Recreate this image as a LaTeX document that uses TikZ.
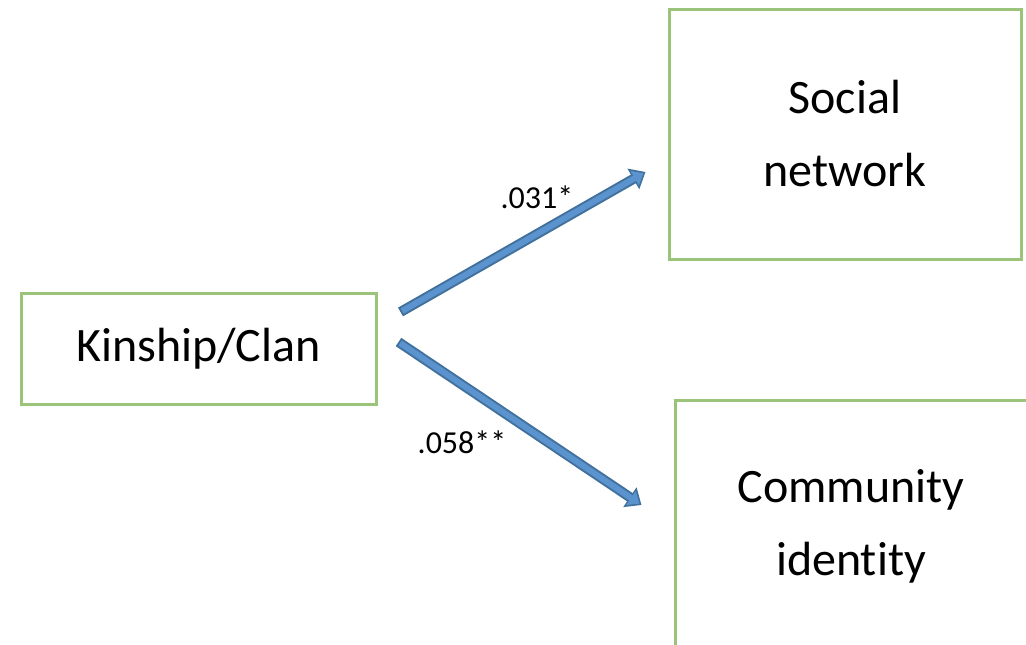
\documentclass[tikz,border=0pt]{standalone}
\usepackage{fontspec}
\setmainfont[Ligatures=CommonOff]{Carlito}
\usetikzlibrary{arrows.meta,positioning,calc}

\definecolor{boxgreen}{HTML}{9BC47A}
\definecolor{linkblue}{HTML}{41719C}
\definecolor{linkfill}{HTML}{5B93CF}

\tikzset{
  box/.style={draw=boxgreen, line width=3pt, align=center, inner sep=0pt,
    font=\fontsize{48}{73}\selectfont},
  link/.style={draw=linkblue, line width=10pt, -{Triangle[length=14pt,width=23pt]},
    postaction={draw=linkfill, line width=6pt, shorten >=2.5pt, shorten <=2pt,
      -{Triangle[length=10pt,width=16pt]}}},
  coef/.style={font=\fontsize{32}{38}\selectfont}
}

\begin{document}
\begin{tikzpicture}[x=1pt,y=-1pt]
    \useasboundingbox (0,0) rectangle (1026,645);

    % Boxes
    \node[box, minimum width=355pt, minimum height=111pt] (kin) at (198.5,349) {Kinship/Clan};
    \node[box, minimum width=352pt, minimum height=250pt] (soc) at (845,134) {Social\\network};
    \node[box, minimum width=352pt, minimum height=252pt] (com) at (851,526) {Community\\identity};

    % Arrow ends
    \coordinate (t1) at ($(kin.east)+(23,-37)$);
    \coordinate (h1) at ($(soc.west)+(-22,38)$);
    \coordinate (t2) at ($(kin.east)+(21,-7)$);
    \coordinate (h2) at ($(com.west)+(-32,-21)$);

    % Arrows
    \draw[link] (t1) -- (h1);
    \draw[link] (t2) -- (h2);

    % Coefficients
    \node[coef] (c1) at (537,197) {.031*};
    \node[coef] (c2) at (462,442) {.058**};
\end{tikzpicture}
\end{document}
